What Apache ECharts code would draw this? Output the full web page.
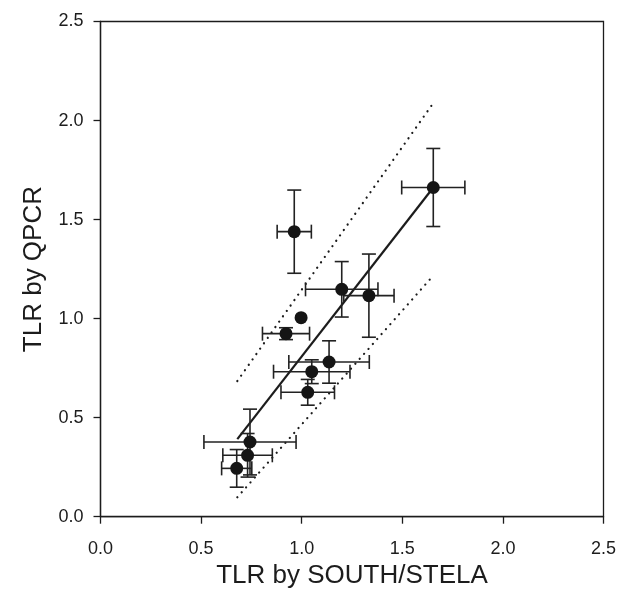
<!DOCTYPE html>
<html>
<head>
<meta charset="utf-8">
<script src="https://cdn.jsdelivr.net/npm/echarts@6/dist/echarts.min.js"></script>
<style>html,body{margin:0;padding:0;background:#fff;}#c{width:621px;height:602px;}</style>
</head>
<body>
<div id="c"></div>
<script>
var xValues = [0.963, 1.199, 1.334, 1.654, 0.997, 0.922, 1.136, 1.050, 1.030, 0.743, 0.731, 0.677];
var yValues = [1.439, 1.148, 1.116, 1.662, 1.005, 0.924, 0.781, 0.732, 0.628, 0.377, 0.310, 0.244];
var xErrors = [0.085, 0.180, 0.125, 0.157, 0.000, 0.117, 0.200, 0.190, 0.133, 0.229, 0.123, 0.075];
var yErrors = [0.210, 0.140, 0.210, 0.197, 0.000, 0.030, 0.107, 0.060, 0.065, 0.166, 0.110, 0.095];
var regressionLine = [[0.680, 0.392], [1.654, 1.662]];
var upperBound = [[0.680, 0.685], [1.658, 2.094]];
var lowerBound = [[0.680, 0.098], [1.645, 1.207]];
var xTicks = ['0.0', '0.5', '1.0', '1.5', '2.0', '2.5'];
var yTicks = ['0.0', '0.5', '1.0', '1.5', '2.0', '2.5'];

var points = xValues.map(function (x, i) { return [x, yValues[i]]; });
var errData = xValues.map(function (x, i) { return [x, yValues[i], xErrors[i], yErrors[i]]; });
var ink = '#1c1c1c';
var font = '"Liberation Sans", Arial, sans-serif';

var chart = echarts.init(document.getElementById('c'), null, {renderer: 'canvas'});
chart.setOption({
  animation: false,
  backgroundColor: '#fff',
  grid: {left: 100.5, right: 17.5, top: 21.5, bottom: 85.3, show: true, borderColor: ink, borderWidth: 1.3, backgroundColor: 'transparent'},
  xAxis: {
    type: 'value', min: 0, max: 2.5, interval: 0.5,
    name: 'TLR by SOUTH/STELA', nameLocation: 'middle', nameGap: 42,
    nameTextStyle: {fontFamily: font, fontSize: 26, color: ink},
    axisLine: {lineStyle: {color: ink, width: 1.3}},
    axisTick: {show: true, length: 7, lineStyle: {color: ink, width: 1.3}},
    axisLabel: {fontFamily: font, fontSize: 18, color: ink, margin: 23, formatter: function (v) { return xTicks[Math.round(v / 0.5)]; }},
    splitLine: {show: false}
  },
  yAxis: {
    type: 'value', min: 0, max: 2.5, interval: 0.5,
    name: 'TLR by QPCR', nameLocation: 'middle', nameGap: 54, nameRotate: 90,
    nameTextStyle: {fontFamily: font, fontSize: 26, color: ink},
    axisLine: {lineStyle: {color: ink, width: 1.3}},
    axisTick: {show: true, length: 7, lineStyle: {color: ink, width: 1.3}},
    axisLabel: {fontFamily: font, fontSize: 18, color: ink, margin: 17, formatter: function (v) { return yTicks[Math.round(v / 0.5)]; }},
    splitLine: {show: false}
  },
  series: [
    {
      type: 'line', data: upperBound, symbol: 'none', z: 2,
      lineStyle: {color: ink, width: 2.2, type: [0.1, 6.5], cap: 'round'}
    },
    {
      type: 'line', data: lowerBound, symbol: 'none', z: 2,
      lineStyle: {color: ink, width: 2.2, type: [0.1, 6.5], cap: 'round'}
    },
    {
      type: 'line', data: regressionLine, symbol: 'none', z: 3,
      lineStyle: {color: ink, width: 2.2}
    },
    {
      type: 'custom', z: 4,
      data: errData,
      renderItem: function (params, api) {
        var x = api.value(0), y = api.value(1), ex = api.value(2), ey = api.value(3);
        var cap = 7;
        var children = [];
        var st = {stroke: '#222', lineWidth: 1.6};
        if (ey > 0) {
          var top = api.coord([x, y + ey]), bot = api.coord([x, y - ey]);
          children.push({type: 'line', shape: {x1: top[0], y1: top[1], x2: bot[0], y2: bot[1]}, style: st});
          children.push({type: 'line', shape: {x1: top[0] - cap, y1: top[1], x2: top[0] + cap, y2: top[1]}, style: st});
          children.push({type: 'line', shape: {x1: bot[0] - cap, y1: bot[1], x2: bot[0] + cap, y2: bot[1]}, style: st});
        }
        if (ex > 0) {
          var l = api.coord([x - ex, y]), r = api.coord([x + ex, y]);
          children.push({type: 'line', shape: {x1: l[0], y1: l[1], x2: r[0], y2: r[1]}, style: st});
          children.push({type: 'line', shape: {x1: l[0], y1: l[1] - cap, x2: l[0], y2: l[1] + cap}, style: st});
          children.push({type: 'line', shape: {x1: r[0], y1: r[1] - cap, x2: r[0], y2: r[1] + cap}, style: st});
        }
        return {type: 'group', children: children};
      }
    },
    {
      type: 'scatter', data: points, symbol: 'circle', symbolSize: 13, z: 5,
      itemStyle: {color: '#151515', opacity: 1}
    }
  ]
});
</script>
</body>
</html>
